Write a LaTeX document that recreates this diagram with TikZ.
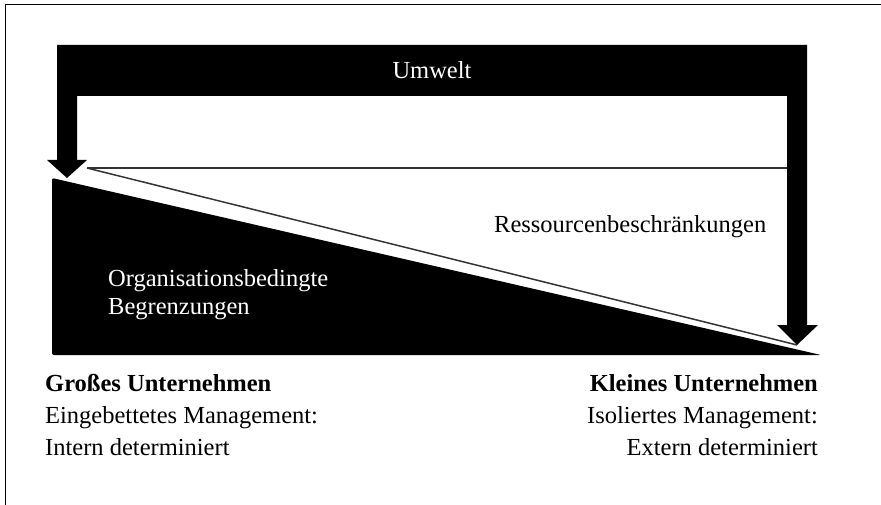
\documentclass[tikz,border=0pt]{standalone}
\usepackage{fontspec}
\setmainfont{Liberation Serif}
\usepackage{tikz}
\usetikzlibrary{positioning}

\begin{document}
\begin{tikzpicture}[x=1pt, y=-1pt]
\tikzset{
  txt/.style = {inner sep=0pt, font=\fontsize{24.5}{29}\selectfont},
  lft/.style = {txt, anchor=base west},
  rgt/.style = {txt, anchor=base east},
  thinline/.style = {draw=black!80, line width=1.5pt}
}
\useasboundingbox (0,0) rectangle (881,505);
\draw [line width=1pt] (5,505) -- (5,5) -- (881,5);
% Umwelt bar with both arrows
\fill (57,45) -- (807,45) -- (807,325) -- (818,325) -- (797,345) -- (777,325) -- (787,325)
  -- (787,96) -- (77,96) -- (77,160) -- (87,160) -- (67,178) -- (47,160) -- (57,160) -- cycle;
% black wedge
\fill [rounded corners=2pt] (52,178) -- (821,355) -- (52,355) -- cycle;
\coordinate (hl) at (87,168);
\coordinate (hr) at (787,168);
\coordinate (tip) at (797,345);
\path [thinline] (hl) -- (hr);
\path [thinline] (hl) -- (tip);
% texts
\node [txt, anchor=base, text=white] (umwelt) at (432,79) {Umwelt};
\node [lft] (ress) at (494,233) {Ressourcenbeschränkungen};
\node [lft, text=white] (org) at (108,287) {Organisationsbedingte};
\node [lft, text=white, below=27pt of org.base west, anchor=base west] (begr) {Begrenzungen};
\node [lft] (gross) at (45,391) {\textbf{Großes Unternehmen}};
\node [lft, below=32pt of gross.base west, anchor=base west] (einb) {Eingebettetes Management:};
\node [lft, below=32pt of einb.base west, anchor=base west] (intern) {Intern determiniert};
\node [rgt] (klein) at (818,391) {\textbf{Kleines Unternehmen}};
\node [rgt, below=32pt of klein.base east, anchor=base east] (isol) {Isoliertes Management:};
\node [rgt, below=32pt of isol.base east, anchor=base east] (extern) {Extern determiniert};
\end{tikzpicture}
\end{document}
